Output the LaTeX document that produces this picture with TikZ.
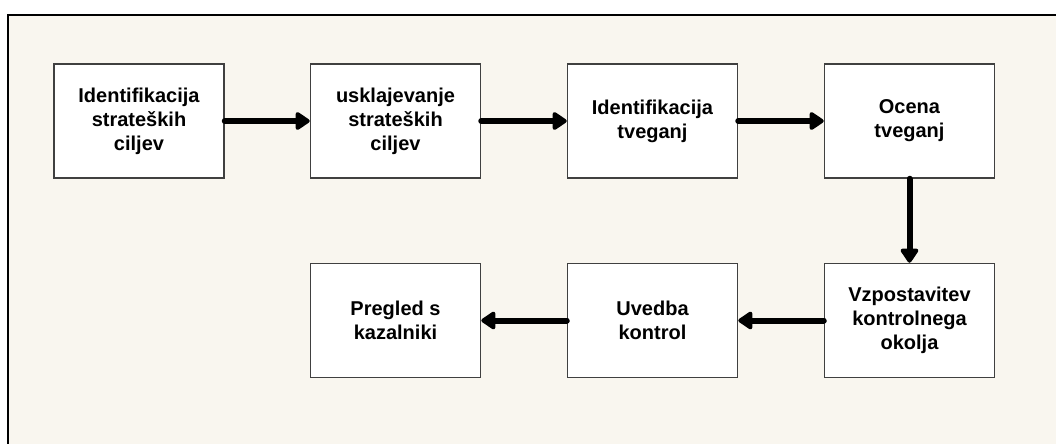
\documentclass[tikz,border=0pt]{standalone}
\usepackage{fontspec}
\setmainfont{Liberation Sans}
\usetikzlibrary{arrows.meta}
\definecolor{paper}{HTML}{F9F6EF}
\definecolor{boxline}{HTML}{404040}
\tikzset{
  stepbox/.style={draw=boxline, line width=0.75pt, fill=white,
    minimum width=85pt, minimum height=57pt, align=center,
    font=\bfseries\fontsize{10}{12}\selectfont},
  flow/.style={line width=3pt, line cap=round,
    -{Triangle[length=8pt,width=10pt,round]}}
}
\begin{document}
\begin{tikzpicture}[x=0.5pt,y=-0.5pt]
      \useasboundingbox (0,0) rectangle (1056,444);
      \fill[paper] (8,15) rectangle (1056,444);
      \draw[line width=1.25pt] (8,444) -- (8,15) -- (1056,15);
      \draw
        (139,121) node[stepbox] (ident){Identifikacija\\strateških\\ciljev}
        (395.5,121) node[stepbox] (uskl){usklajevanje\\strateških\\ciljev}
        (652.5,121) node[stepbox] (idtveg){Identifikacija\\tveganj}
        (909.5,121) node[stepbox] (ocena){Ocena\\tveganj}
        (909.5,320.5) node[stepbox] (vzpost){Vzpostavitev\\kontrolnega\\okolja}
        (652.5,320.5) node[stepbox] (uvedba){Uvedba\\kontrol}
        (395.5,320.5) node[stepbox] (pregled){Pregled s\\kazalniki};
      \begin{scope}[flow]
        \draw (ident) to (uskl);
        \draw (uskl) to (idtveg);
        \draw (idtveg) to (ocena);
        \draw (ocena) to (vzpost);
        \draw (vzpost) to (uvedba);
        \draw (uvedba) to (pregled);
      \end{scope}
    \end{tikzpicture}
\end{document}
